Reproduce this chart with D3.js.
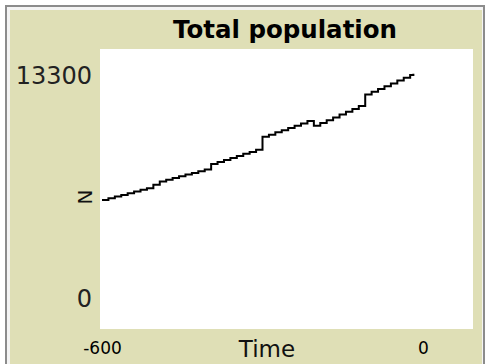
<!DOCTYPE html>
<html><head><meta charset="utf-8">
<script src="https://cdn.jsdelivr.net/npm/d3@7"></script>
<style>html,body{margin:0;padding:0;background:#fff;}svg{display:block;}</style>
</head><body>
<svg id="chart" width="485" height="364"></svg>
<script>
const title = "Total population";
const xLabel = "Time";
const yLabel = "N";
const xTicks = [-600, 0];
const yTicks = [0, 13300];
const times = [-600,-588,-576,-564,-552,-540,-528,-516,-504,-492,-480,-468,-456,-444,-432,-420,-408,-396,-384,-372,-360,-348,-336,-324,-312,-300,-288,-276,-264,-252,-240,-228,-216,-204,-192,-180,-168,-156,-144,-132,-120,-108,-96,-84,-72,-60,-48,-36,-24,-18];
const population = [6128,6210,6290,6370,6450,6535,6610,6690,6850,7010,7090,7170,7250,7335,7410,7495,7580,7840,7935,8030,8125,8220,8320,8410,8510,9130,9230,9340,9440,9550,9655,9760,9880,9660,9790,9920,10050,10190,10320,10450,10590,11140,11270,11400,11530,11660,11800,11930,12060,12120];

const svg = d3.select("#chart");
const olive = "rgb(223,223,182)";
// frame
svg.append("rect").attr("x",5).attr("y",5).attr("width",480).attr("height",359).attr("fill","#8c8c8c");
svg.append("rect").attr("x",7).attr("y",7).attr("width",476).attr("height",357).attr("fill","#f4f4f4");
svg.append("rect").attr("x",10).attr("y",10).attr("width",472).attr("height",354).attr("fill",olive);

const plot = {x0:100, x1:473, y0:49, y1:329};
svg.append("rect").attr("x",plot.x0).attr("y",plot.y0).attr("width",plot.x1-plot.x0).attr("height",plot.y1-plot.y0).attr("fill","#fff");

const x = d3.scaleLinear().domain([-600,0]).range([102,423]);
const y = d3.scaleLinear().domain([0,13300]).range([plot.y1, plot.y0]);

const font = "DejaVu Sans, Verdana, sans-serif";

svg.append("text").attr("x",285).attr("y",38).attr("text-anchor","middle")
  .attr("font-family",font).attr("font-weight","bold").attr("font-size",24)
  .attr("textLength",224).attr("lengthAdjust","spacingAndGlyphs").attr("fill","#000").text(title);

// y axis labels
const gy = svg.append("g").attr("transform",`translate(92,0)`)
  .call(d3.axisLeft(y).tickValues(yTicks).tickSize(0).tickPadding(0).tickFormat(d => String(d)));
gy.select(".domain").remove();
gy.selectAll("text").attr("font-family",font).attr("font-size",24).attr("fill","#222")
  .attr("dy", d => d === 0 ? "-0.95em" : "1.45em");

// x axis labels
const gx = svg.append("g").attr("transform",`translate(0,${plot.y1})`)
  .call(d3.axisBottom(x).tickValues(xTicks).tickSize(0).tickPadding(0).tickFormat(d => String(d)));
gx.select(".domain").remove();
gx.selectAll("text").attr("font-family",font).attr("font-size",17).attr("fill","#000")
  .attr("y", 0).attr("dy", 25);

svg.append("text").attr("x",267).attr("y",357).attr("text-anchor","middle")
  .attr("font-family",font).attr("font-size",23).attr("fill","#111").text(xLabel);

svg.append("text").attr("transform","translate(92,197) rotate(-90)").attr("text-anchor","middle")
  .attr("font-family",font).attr("font-size",20).attr("fill","#111").text(yLabel);

const data = times.map((t,i)=>({t, n: population[i]}));
const line = d3.line().x(d=>x(d.t)).y(d=>y(d.n)).curve(d3.curveStepAfter);
svg.append("path").datum(data).attr("d",line).attr("fill","none").attr("stroke","#000").attr("stroke-width",2);
</script>
</body></html>
